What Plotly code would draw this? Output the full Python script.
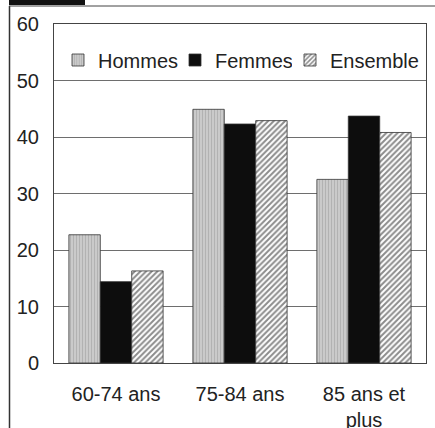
import plotly.graph_objects as go

categories = ["60-74 ans", "75-84 ans", "85 ans et<br>plus"]
hommes = [22.7, 44.9, 32.5]
femmes = [14.4, 42.3, 43.7]
ensemble = [16.3, 42.9, 40.8]
y_ticks = [0, 10, 20, 30, 40, 50, 60]

W, H = 435, 428
L, R, T, B = 54, 9, 24, 65
pw, ph = W - L - R, H - T - B

def px(x):
    return (x - L) / pw

def py(y):
    return (H - B - y) / ph

font = dict(family="Liberation Sans, Arial, sans-serif", size=20, color="#222222")
edge = dict(color="#333333", width=0.8)

fig = go.Figure()
fig.add_trace(go.Bar(
    name="Hommes", x=categories, y=hommes, legend="legend",
    marker=dict(color="#c4c4c4", line=edge,
                pattern=dict(shape="|", fgcolor="#9a9a9a", bgcolor="#cacaca", size=3, solidity=0.35)),
))
fig.add_trace(go.Bar(
    name="Femmes", x=categories, y=femmes, legend="legend",
    marker=dict(color="#0d0d0d", line=edge),
))
fig.add_trace(go.Bar(
    name="Ensemble", x=categories, y=ensemble, legend="legend2",
    marker=dict(color="#ffffff", line=edge,
                pattern=dict(shape="/", fgcolor="#1a1a1a", bgcolor="#ffffff", size=4, solidity=0.5)),
))

shapes = [
    dict(type="line", xref="paper", yref="paper", x0=px(9.5), x1=px(9.5), y0=py(6), y1=py(H + 2),
         line=dict(color="#333333", width=1.5)),
    dict(type="line", xref="paper", yref="paper", x0=px(9), x1=px(W + 2), y0=py(6), y1=py(6),
         line=dict(color="#444444", width=1)),
    dict(type="rect", xref="paper", yref="paper", x0=px(9), x1=px(85), y0=py(5), y1=py(-2),
         fillcolor="#111111", line=dict(width=0)),
]

leg_common = dict(orientation="h", xanchor="left", y=py(60), yanchor="middle",
                  font=font, bgcolor="rgba(0,0,0,0)", itemwidth=30, tracegroupgap=0)

fig.update_layout(
    width=W, height=H, autosize=False,
    margin=dict(l=L, r=R, t=T, b=B, autoexpand=False),
    paper_bgcolor="white", plot_bgcolor="white",
    font=font,
    barmode="group", bargap=0.24, bargroupgap=0,
    showlegend=True,
    legend=dict(x=px(58), entrywidth=72, entrywidthmode="pixels", **leg_common),
    legend2=dict(x=px(290), **leg_common),
    xaxis=dict(showline=True, linecolor="#444444", linewidth=1, mirror=True,
               ticks="outside", ticklen=13, tickcolor="rgba(0,0,0,0)",
               tickfont=font, showgrid=False, automargin=False),
    yaxis=dict(range=[0, 60], tickvals=y_ticks, showline=True, linecolor="#444444", linewidth=1,
               mirror=True, showgrid=True, gridcolor="#6e6e6e", gridwidth=1,
               ticks="outside", ticklen=10, tickcolor="rgba(0,0,0,0)",
               tickfont=font, zeroline=False, automargin=False),
    shapes=shapes,
)

fig.write_html("out.html", config={"displayModeBar": False},
               post_script="document.body.style.margin='0';")
